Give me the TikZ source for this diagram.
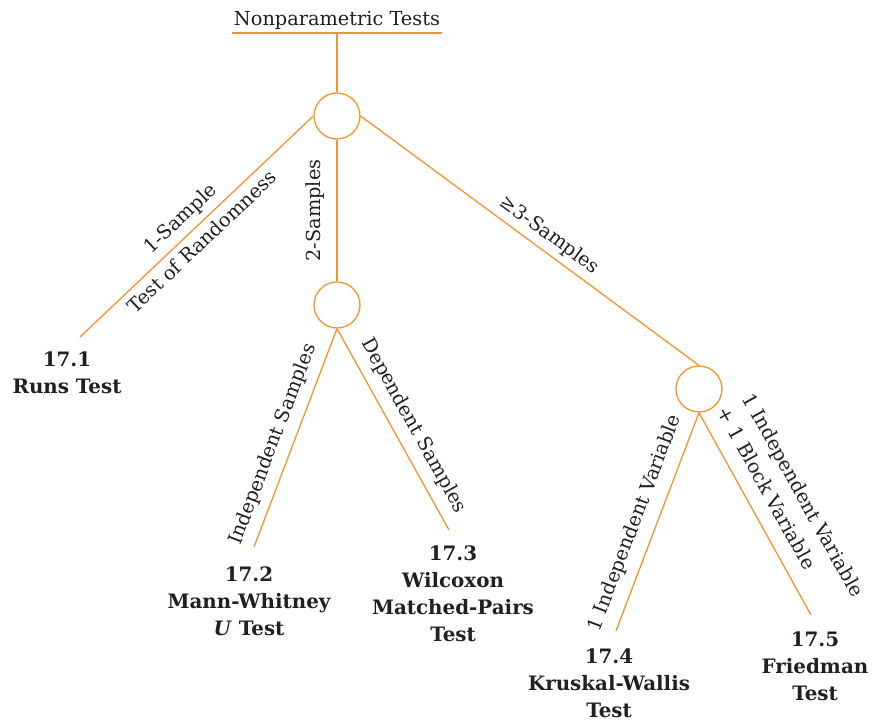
\documentclass[tikz,border=0pt]{standalone}
\usepackage{fontspec}
\setmainfont{DejaVu Serif}
\usetikzlibrary{positioning}
\definecolor{treeorange}{HTML}{F39530}
\definecolor{treeink}{HTML}{231F20}

\begin{document}
\begin{tikzpicture}[x=1cm,y=1cm,font=\fontsize{11}{16.2}\selectfont,text=treeink,
 split/.style={circle,draw=treeorange,line width=.75pt,minimum size=.92cm,inner sep=0pt},
 br/.style={draw=treeorange,line width=.75pt},
 lab/.style={sloped,inner sep=3.5pt},
 leaf/.style={font=\bfseries\fontsize{11.3}{15.4}\selectfont,align=center}]
\useasboundingbox (0,0) rectangle (17.52,14.42);
\node[anchor=south,inner xsep=1pt,inner ysep=2pt] (title) at (6.74,13.76) {Nonparametric Tests};
\draw[br] (title.south west) -- (title.south east);
\node[split] (c1) at (6.74,12.10) {};
\node[split] (c2) at (6.74,8.32) {};
\node[split] (c3) at (13.98,6.64) {};
\coordinate (e1) at (1.60,7.68);
\coordinate (e2) at (5.08,3.48);
\coordinate (e3) at (8.98,3.82);
\coordinate (e4) at (12.32,1.80);
\coordinate (e5) at (16.22,2.12);
\node[leaf] (runs) at (1.34,6.96) {17.1\\Runs Test};
\node[leaf] (mann) at (4.98,2.40) {17.2\\Mann-Whitney\\\textit{U} Test};
\node[leaf] (wilc) at (9.06,2.54) {17.3\\Wilcoxon\\Matched-Pairs\\Test};
\node[leaf] (krus) at (12.18,0.76) {17.4\\Kruskal-Wallis\\Test};
\node[leaf] (fried) at (16.30,1.10) {17.5\\Friedman\\Test};
\draw[br] (title.south) -- (c1);
\draw[br] (c1.west) -- node[lab,above,pos=.52] {1-Sample} node[lab,below,pos=.52] {Test of Randomness} (e1);
\draw[br] (c2) -- node[lab,above,inner sep=6.5pt] {2-Samples} (c1);
\draw[br] (c1.east) -- node[lab,above,pos=.53] {≥3-Samples} (c3.north);
\draw[br] (c2.south) -- node[lab,above,pos=.56,inner sep=5pt] {Independent Samples} (e2);
\draw[br] (c2.south) -- node[lab,above,pos=.53,inner sep=5.5pt] {Dependent Samples} (e3);
\draw[br] (c3.south) -- node[lab,above,pos=.54,inner sep=6pt] {1 Independent Variable} (e4);
\draw[br] (c3.south) -- node[lab,above,pos=.53,inner sep=8.5pt,align=left] {1 Independent Variable\\+ 1 Block Variable} (e5);
\end{tikzpicture}
\end{document}
